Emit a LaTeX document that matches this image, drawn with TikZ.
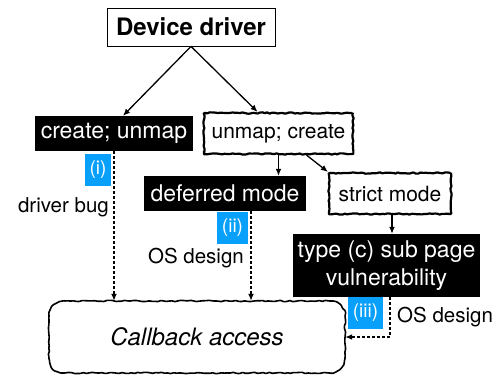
\documentclass[tikz,border=0pt]{standalone}
\usepackage{fontspec}
\setmainfont{TeX Gyre Heros}
\usetikzlibrary{arrows.meta,decorations.pathmorphing}
\definecolor{tagblue}{RGB}{8,160,250}

\begin{document}
\begin{tikzpicture}[x=1pt,y=-1pt,
  blackbox/.style={fill=black,text=white,inner sep=0pt,font=\fontsize{23}{28}\selectfont},
  roughbox/.style={draw,line width=2.2pt,inner sep=0pt,rounded corners=0.6pt,decorate,
    decoration={random steps,segment length=2.5pt,amplitude=0.7pt},font=\fontsize{21}{25}\selectfont},
  tag/.style={fill=tagblue,text=white,inner sep=0pt,minimum height=32pt,font=\fontsize{19}{21}\selectfont},
  lbl/.style={inner sep=0pt,font=\fontsize{20.5}{24}\selectfont},
  arr/.style={-{Latex[length=7pt,width=6pt]},line width=1.3pt},
  darr/.style={arr,line width=1.5pt,dash pattern=on 3pt off 2pt}]
  \pgfmathsetseed{7}
  \useasboundingbox (0,0) rectangle (493,375);
  % boxes
  \node[draw,line width=0.8pt,inner sep=0pt,minimum width=168pt,minimum height=38pt,
    font=\fontsize{24}{28}\selectfont\bfseries] (dev) at (191,27) {Device driver};
  \node[blackbox,minimum width=158pt,minimum height=35pt] (cu) at (114,133.5) {create; unmap};
  \node[roughbox,minimum width=149pt,minimum height=41pt] (uc) at (278.5,133.5) {unmap; create};
  \node[blackbox,minimum width=162pt,minimum height=35pt] (dm) at (225,193.5) {deferred mode};
  \node[roughbox,minimum width=122pt,minimum height=41pt] (sm) at (390,193.5) {strict mode};
  \node[blackbox,minimum width=187pt,minimum height=63pt,align=center] (tc) at (386.5,265.5)
    {type (c) sub page\\vulnerability};
  \node[inner sep=0pt,minimum width=296pt,minimum height=72pt,
    font=\fontsize{24}{28}\selectfont\itshape] (cb) at (197,337) {Callback access};
  % rough outline of the callback box
  \draw[line width=1.6pt,rounded corners=0.6pt,decorate,
    decoration={random steps,segment length=3pt,amplitude=0.7pt}]
    (64,301) -- (330,301) .. controls (338.3,301) and (345,307.7) .. (345,316)
    -- (345,358) .. controls (345,366.3) and (338.3,373) .. (330,373)
    -- (64,373) .. controls (55.7,373) and (49,366.3) .. (49,358)
    -- (49,316) .. controls (49,307.7) and (55.7,301) .. (64,301) -- cycle;
  % tags and labels
  \node[tag,minimum width=26pt] (t1) at (98,170) {(i)};
  \node[tag,minimum width=31pt] (t2) at (232.5,228) {(ii)};
  \node[tag,minimum width=35pt] (t3) at (365.5,313) {(iii)};
  \node[lbl,anchor=east] (l1) at (109,207) {driver bug};
  \node[lbl,anchor=east] (l2) at (244,258) {OS design};
  \node[lbl,anchor=west] (l3) at (397,317) {OS design};
  % connectors
  \draw[arr] (dev.south) -- ([xshift=9pt]cu.north);
  \draw[arr] (dev.south) -- ([xshift=-21pt]uc.north);
  \draw[arr] (uc.south) -- (uc.south |- dm.north);
  \draw[arr] ([xshift=28pt]uc.south) -- (sm.north west);
  \draw[arr] ([xshift=2pt]sm.south) -- ([xshift=2pt]sm.south |- tc.north);
  \draw[darr] (cu.south) -- (cu.south |- cb.north);
  \draw[darr] ([xshift=26pt]dm.south) -- ([xshift=26pt]dm.south |- cb.north);
  \draw[darr] ([xshift=3.5pt]tc.south) |- (cb.east);
\end{tikzpicture}
\end{document}
